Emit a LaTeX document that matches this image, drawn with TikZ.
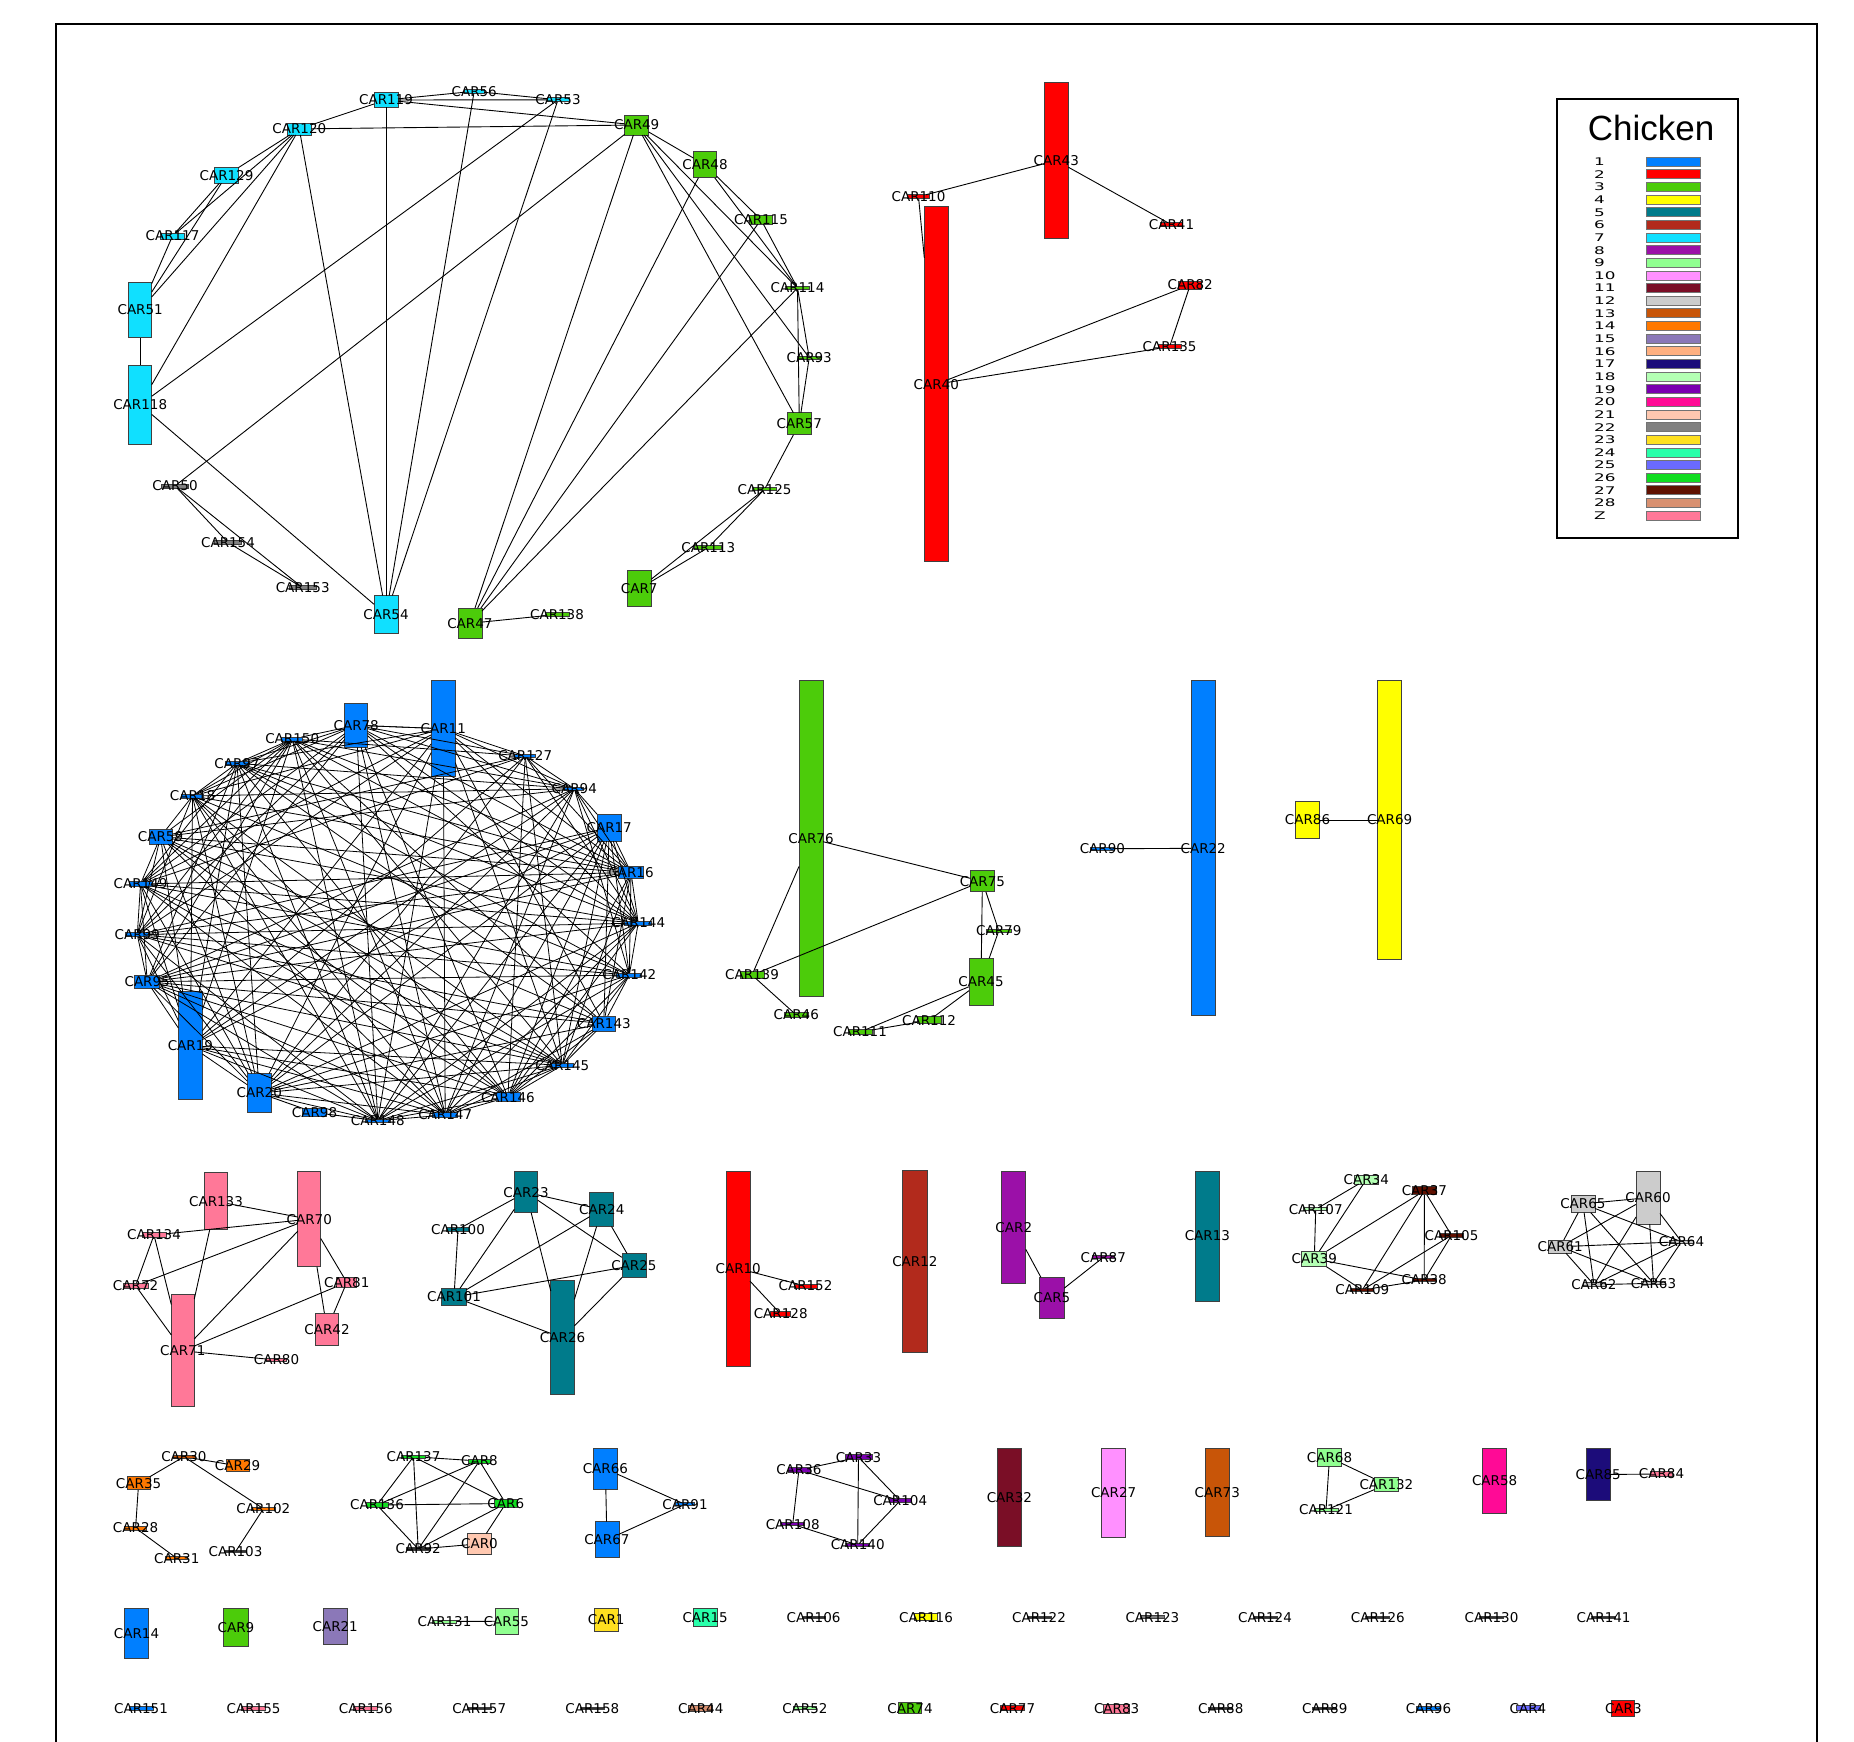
\documentclass[tikz,border=0pt]{standalone}
\usepackage{fontspec}
\newfontfamily\dejavu{DejaVu Sans}
\newfontfamily\liber{Liberation Sans}
\definecolor{c1}{HTML}{007FFF}
\definecolor{c2}{HTML}{FF0000}
\definecolor{c3}{HTML}{4CCC0A}
\definecolor{c4}{HTML}{FFFF00}
\definecolor{c5}{HTML}{007B8B}
\definecolor{c6}{HTML}{B22A1C}
\definecolor{c7}{HTML}{10E0FF}
\definecolor{c8}{HTML}{9B10A8}
\definecolor{c9}{HTML}{90FF90}
\definecolor{c10}{HTML}{FF90FF}
\definecolor{c11}{HTML}{7A0E26}
\definecolor{c12}{HTML}{CCCCCC}
\definecolor{c13}{HTML}{C85508}
\definecolor{c14}{HTML}{FF7800}
\definecolor{c15}{HTML}{8B78B8}
\definecolor{c16}{HTML}{FFB080}
\definecolor{c17}{HTML}{1C0C7A}
\definecolor{c18}{HTML}{B4FFB4}
\definecolor{c19}{HTML}{7A00B0}
\definecolor{c20}{HTML}{FF0A96}
\definecolor{c21}{HTML}{FFC8B0}
\definecolor{c22}{HTML}{808080}
\definecolor{c23}{HTML}{FFE020}
\definecolor{c24}{HTML}{28FFAA}
\definecolor{c25}{HTML}{6A6AFF}
\definecolor{c26}{HTML}{10DD20}
\definecolor{c27}{HTML}{601000}
\definecolor{c28}{HTML}{D89070}
\definecolor{cZ}{HTML}{FF7898}
\definecolor{cK}{HTML}{333333}
\tikzset{
 cbox/.style={rectangle, draw=black!75, line width=0.8pt, inner sep=0pt, outer sep=0pt},
 lbl/.style={font={\dejavu\fontsize{13.5}{14}\selectfont}, inner sep=0pt, text=black},
 edge/.style={draw=black, line width=0.9pt},
 legnum/.style={font={\dejavu\fontsize{10.5}{11}\selectfont}, inner sep=0pt, anchor=west},
 legbar/.style={rectangle, draw=black!55, line width=0.8pt, minimum width=54pt, minimum height=9pt, inner sep=0pt},
}
\newcommand\cn[6]{\node[cbox, fill=#6, minimum width=#4pt, minimum height=#5pt] (#1) at (#2,#3) {};}
\begin{document}
\begin{tikzpicture}[x=1pt,y=-1pt]
\useasboundingbox (0,0) rectangle (1854,1741);
\clip (0,0) rectangle (1854,1741);
\fill[white] (0,0) rectangle (1854,1741);
\draw[line width=2pt] (55.7,1760) -- (55.7,23.6) -- (1816.7,23.6) -- (1816.7,1760);
% legend
\node[draw, line width=1.8pt, minimum width=180.4pt, minimum height=439pt, inner sep=0pt] (legend) at (1647.5,318.8) {};
\node[font={\liber\fontsize{35}{36}\selectfont}, inner sep=0pt] (legtitle) at (1651,127.5) {Chicken};
\foreach \t/\c [count=\i from 0] in {1/c1,2/c2,3/c3,4/c4,5/c5,6/c6,7/c7,8/c8,9/c9,10/c10,11/c11,12/c12,13/c13,14/c14,15/c15,16/c16,17/c17,18/c18,19/c19,20/c20,21/c21,22/c22,23/c23,24/c24,25/c25,26/c26,27/c27,28/c28,Z/cZ}{
  \node[legnum] (lgn\i) at (1594,161.7+12.64*\i) {\scalebox{1.6}[1]{\t}};
  \node[legbar, fill=\c] (lgb\i) at (1673,161.7+12.64*\i) {};
}
% ---------- cluster top-left
\cn{CAR119}{386}{100}{24}{14.5}{c7}
\cn{CAR56}{474.2}{91.3}{20}{4}{c7}
\cn{CAR53}{558}{99.8}{22}{4}{c7}
\cn{CAR120}{299.3}{128.9}{24}{12}{c7}
\cn{CAR49}{636.7}{125}{24}{20}{c3}
\cn{CAR48}{705}{164.8}{23}{26}{c3}
\cn{CAR129}{226.5}{175.2}{24}{16}{c7}
\cn{CAR115}{761}{219.7}{23}{9}{c3}
\cn{CAR117}{172.5}{236}{24}{6}{c7}
\cn{CAR114}{797.5}{288}{24}{3}{c3}
\cn{CAR51}{140.2}{310}{23}{55.5}{c7}
\cn{CAR93}{809.2}{357.7}{24}{3}{c3}
\cn{CAR118}{140.2}{404.6}{23}{79}{c7}
\cn{CAR57}{799.3}{423.7}{24}{22}{c3}
\cn{CAR50}{175}{485.9}{27}{4}{c22}
\cn{CAR125}{764.6}{489.3}{24}{3}{c3}
\cn{CAR154}{228}{542.5}{27}{4}{c22}
\cn{CAR113}{708.3}{547.5}{27}{4}{c3}
\cn{CAR153}{302.7}{587.7}{27}{4}{c22}
\cn{CAR7}{639.2}{588.7}{24}{36}{c3}
\cn{CAR54}{386}{614.5}{24}{38}{c7}
\cn{CAR47}{469.9}{623.3}{24}{30.6}{c3}
\cn{CAR138}{557}{614.5}{24}{4}{c3}
% ---------- red cluster
\cn{CAR43}{1056.3}{160.5}{24}{156}{c2}
\cn{CAR110}{918.5}{196.7}{22}{4}{c2}
\cn{CAR40}{936.3}{384.2}{24}{355}{c2}
\cn{CAR41}{1171.5}{224.7}{22}{4}{c2}
\cn{CAR82}{1190.2}{285}{23}{8}{c2}
\cn{CAR135}{1169.6}{346.7}{23}{4}{c2}
% ---------- blue dense cluster
\cn{CAR11}{443.3}{728.7}{24}{96}{c1}
\cn{CAR127}{525.2}{756}{21}{3}{c1}
\cn{CAR94}{574.3}{788.7}{19}{3}{c1}
\cn{CAR17}{609.2}{827.7}{24}{27}{c1}
\cn{CAR16}{631}{872.5}{25}{12}{c1}
\cn{CAR144}{638.2}{923}{27}{4}{c1}
\cn{CAR142}{629.3}{975}{25}{4}{c1}
\cn{CAR143}{603.8}{1023.5}{23}{15}{c1}
\cn{CAR145}{562.3}{1065.3}{23}{4}{c1}
\cn{CAR146}{507.9}{1097.2}{24}{9}{c1}
\cn{CAR147}{445.2}{1115}{25}{5}{c1}
\cn{CAR148}{377.8}{1120.7}{25}{3}{c1}
\cn{CAR98}{314.5}{1112.5}{24}{8}{c1}
\cn{CAR20}{259.3}{1093}{24}{39}{c1}
\cn{CAR19}{190.4}{1045.8}{24}{108}{c1}
\cn{CAR95}{147.2}{981.7}{25}{13}{c1}
\cn{CAR99}{137.3}{934.7}{23}{4}{c1}
\cn{CAR149}{140.5}{884}{23}{5}{c1}
\cn{CAR59}{160.5}{836.7}{23}{15}{c1}
\cn{CAR18}{192.5}{796}{22}{4}{c1}
\cn{CAR97}{237}{763.3}{23}{4}{c1}
\cn{CAR150}{292.2}{739}{21}{4}{c1}
\cn{CAR78}{356.2}{725.3}{23}{44}{c1}
% ---------- green 76 cluster and others of row 2
\cn{CAR76}{811}{838.7}{24}{316}{c3}
\cn{CAR75}{982.4}{881.3}{24}{21}{c3}
\cn{CAR79}{998.8}{930.7}{25}{3}{c3}
\cn{CAR139}{752}{975}{24}{6.6}{c3}
\cn{CAR45}{981}{981.7}{24}{47}{c3}
\cn{CAR46}{796.3}{1015}{24}{5}{c3}
\cn{CAR112}{929.1}{1020.3}{24}{7}{c3}
\cn{CAR111}{860}{1032}{24}{5}{c3}
\cn{CAR90}{1102.4}{848.7}{24}{3}{c1}
\cn{CAR22}{1203.2}{848.3}{24}{335}{c1}
\cn{CAR86}{1307.5}{820}{24}{37}{c4}
\cn{CAR69}{1389.6}{820}{24}{279}{c4}
% ---------- row 3
\cn{CAR133}{216}{1201.3}{23}{57}{cZ}
\cn{CAR70}{309.3}{1219.2}{23}{95}{cZ}
\cn{CAR134}{154}{1235}{24}{5}{cZ}
\cn{CAR72}{135.6}{1285.7}{25}{5}{cZ}
\cn{CAR81}{346.8}{1282.3}{20}{10}{cZ}
\cn{CAR71}{182.8}{1350.8}{23}{112}{cZ}
\cn{CAR42}{327}{1329.2}{23.5}{32}{cZ}
\cn{CAR80}{276.5}{1360}{20}{3}{cZ}
\cn{CAR23}{526}{1192.2}{23.5}{41}{c5}
\cn{CAR24}{601.8}{1209.5}{24}{34}{c5}
\cn{CAR100}{458}{1229.3}{23}{3.5}{c5}
\cn{CAR25}{633.9}{1265.5}{24}{24}{c5}
\cn{CAR101}{454}{1297}{24.5}{17}{c5}
\cn{CAR26}{562.6}{1337.8}{23.5}{114}{c5}
\cn{CAR10}{738.2}{1268.5}{23.5}{195}{c2}
\cn{CAR152}{805.5}{1286}{23}{4}{c2}
\cn{CAR128}{780.7}{1314}{20}{5}{c2}
\cn{CAR12}{914.9}{1261.8}{24.4}{182}{c6}
\cn{CAR2}{1013.8}{1227.2}{24}{112}{c8}
\cn{CAR5}{1052}{1297.8}{24.4}{41}{c8}
\cn{CAR87}{1103.3}{1257.3}{22}{3}{c8}
\cn{CAR13}{1207.4}{1236}{24.4}{130}{c5}
\cn{CAR34}{1366.3}{1179.5}{24}{9}{c18}
\cn{CAR37}{1424.4}{1190.8}{24}{8}{c27}
\cn{CAR107}{1315.7}{1209.3}{24}{3}{c18}
\cn{CAR105}{1451.5}{1235.3}{24}{4}{c27}
\cn{CAR39}{1314.3}{1258.8}{25}{15.7}{c18}
\cn{CAR38}{1424.2}{1280}{24}{3}{c27}
\cn{CAR109}{1362.3}{1290}{23}{3}{c27}
\cn{CAR60}{1648}{1197.7}{24}{53}{c12}
\cn{CAR65}{1582.9}{1203.8}{24}{17.7}{c12}
\cn{CAR61}{1560.2}{1246.7}{23}{13}{c12}
\cn{CAR64}{1681.5}{1241.7}{24}{3}{c12}
\cn{CAR62}{1593.9}{1284.7}{22}{4}{c12}
\cn{CAR63}{1653.5}{1283.3}{24}{3}{c12}
% ---------- row 4
\cn{CAR30}{183.9}{1456.7}{22}{3}{c13}
\cn{CAR29}{237.6}{1465.8}{23}{12}{c14}
\cn{CAR35}{138.6}{1483.3}{23}{13}{c14}
\cn{CAR102}{263.4}{1508.7}{24}{3}{c14}
\cn{CAR28}{135.6}{1528}{22}{4}{c14}
\cn{CAR103}{235.5}{1551.7}{22}{2}{cK}
\cn{CAR31}{176.8}{1558.3}{22}{3}{c14}
\cn{CAR137}{413.5}{1456.7}{24}{3}{c26}
\cn{CAR8}{479.5}{1461}{22}{4}{c26}
\cn{CAR136}{377}{1505}{22}{5}{c26}
\cn{CAR6}{505.8}{1503.5}{23}{8}{c26}
\cn{CAR92}{418.2}{1549}{24}{3}{cK}
\cn{CAR0}{479.5}{1543.8}{24}{21}{c21}
\cn{CAR66}{605.4}{1468.8}{24}{41}{c1}
\cn{CAR67}{606.9}{1539.7}{24}{36}{c1}
\cn{CAR91}{685}{1504.3}{19}{3}{c1}
\cn{CAR33}{858.5}{1457.3}{27}{5}{c19}
\cn{CAR36}{798.9}{1470}{22}{5}{c19}
\cn{CAR104}{900.2}{1500.7}{22}{4}{c19}
\cn{CAR108}{792.7}{1524.3}{24}{3}{c19}
\cn{CAR140}{857.7}{1545}{24}{3}{c19}
\cn{CAR32}{1009.4}{1497.5}{24}{98}{c11}
\cn{CAR27}{1113.6}{1493}{24}{89}{c10}
\cn{CAR73}{1217.3}{1492.2}{24}{88}{c13}
\cn{CAR68}{1329.5}{1457.5}{24}{18}{c9}
\cn{CAR132}{1386.4}{1484.5}{24}{14}{c9}
\cn{CAR121}{1326}{1510}{24}{3}{c9}
\cn{CAR58}{1494.6}{1480.8}{24}{65}{c20}
\cn{CAR85}{1598.2}{1474.5}{24}{52}{c17}
\cn{CAR84}{1661.5}{1474}{22}{5}{cZ}
% ---------- row 5
\cn{CAR14}{136.5}{1633.5}{24}{50}{c1}
\cn{CAR9}{236}{1627.5}{24.6}{38}{c3}
\cn{CAR21}{335.2}{1626.2}{23.5}{35.7}{c15}
\cn{CAR131}{444.5}{1621.5}{24}{3}{c9}
\cn{CAR55}{506.4}{1621.2}{23}{25.7}{c9}
\cn{CAR1}{606.2}{1620}{24}{23}{c23}
\cn{CAR15}{705.1}{1617.5}{24}{18}{c24}
\cn{CAR106}{813.6}{1617.5}{23}{2}{cK}
\cn{CAR116}{926}{1617.3}{23}{7}{c4}
\cn{CAR122}{1039}{1617.3}{24}{2}{cK}
\cn{CAR123}{1152.4}{1617.3}{24}{3}{c22}
\cn{CAR124}{1265}{1617.3}{24}{2}{cK}
\cn{CAR126}{1377.8}{1617.3}{24}{2}{cK}
\cn{CAR130}{1491.5}{1617.3}{24}{2}{cK}
\cn{CAR141}{1603.6}{1617.3}{24}{2}{cK}
% ---------- row 6
\cn{CAR151}{141}{1708.3}{24}{4}{c1}
\cn{CAR155}{253.6}{1708.3}{24}{4}{cZ}
\cn{CAR156}{365.8}{1708.3}{24}{4}{cZ}
\cn{CAR157}{479.2}{1708.3}{24}{2}{cK}
\cn{CAR158}{592.3}{1708.3}{24}{2}{cK}
\cn{CAR44}{700.8}{1708.3}{24}{6}{c28}
\cn{CAR52}{804.9}{1708.3}{23}{3}{c9}
\cn{CAR74}{910}{1708.3}{23}{11}{c3}
\cn{CAR77}{1012.5}{1708.3}{24}{5}{c2}
\cn{CAR83}{1116.6}{1708.7}{26}{9.3}{cZ}
\cn{CAR88}{1220.8}{1708.3}{24}{2}{cK}
\cn{CAR89}{1324.8}{1708.3}{24}{2}{cK}
\cn{CAR96}{1428.5}{1708.3}{24}{4}{c1}
\cn{CAR4}{1528}{1708.3}{24}{5}{c25}
\cn{CAR3}{1623.3}{1708.3}{23}{16.7}{c2}
% ================= edges
\foreach \a/\b in {CAR119/CAR56, CAR119/CAR53, CAR56/CAR53, CAR119/CAR49, CAR120/CAR119, CAR120/CAR49,
 CAR119/CAR54, CAR120/CAR54, CAR56/CAR54, CAR53/CAR54, CAR53/CAR118, CAR49/CAR50, CAR120/CAR129,
 CAR120/CAR117, CAR120/CAR51, CAR120/CAR118, CAR129/CAR117, CAR129/CAR51, CAR117/CAR51, CAR51/CAR118,
 CAR118/CAR54, CAR49/CAR48, CAR49/CAR114, CAR49/CAR93, CAR49/CAR57, CAR49/CAR47, CAR48/CAR47,
 CAR115/CAR47, CAR114/CAR47, CAR48/CAR115, CAR48/CAR114, CAR115/CAR114, CAR114/CAR57, CAR114/CAR93,
 CAR93/CAR57, CAR57/CAR125, CAR125/CAR7, CAR125/CAR113, CAR113/CAR7, CAR50/CAR154, CAR50/CAR153,
 CAR154/CAR153, CAR47/CAR138,
 CAR110/CAR43, CAR110/CAR40, CAR43/CAR41, CAR40/CAR82, CAR40/CAR135, CAR82/CAR135,
 CAR76/CAR75, CAR76/CAR139, CAR139/CAR75, CAR139/CAR46, CAR75/CAR45, CAR75/CAR79, CAR79/CAR45,
 CAR45/CAR111, CAR45/CAR112, CAR112/CAR111, CAR90/CAR22, CAR86/CAR69,
 CAR133/CAR70, CAR134/CAR70, CAR134/CAR72, CAR134/CAR71, CAR72/CAR70, CAR72/CAR71, CAR133/CAR71,
 CAR70/CAR71, CAR70/CAR81, CAR70/CAR42, CAR81/CAR42, CAR81/CAR71, CAR71/CAR80,
 CAR23/CAR100, CAR23/CAR24, CAR23/CAR101, CAR23/CAR26, CAR23/CAR25, CAR100/CAR101, CAR24/CAR101,
 CAR24/CAR26, CAR24/CAR25, CAR25/CAR101, CAR25/CAR26, CAR101/CAR26,
 CAR10/CAR152, CAR10/CAR128, CAR2/CAR5, CAR5/CAR87,
 CAR34/CAR107, CAR34/CAR39, CAR107/CAR39, CAR37/CAR39, CAR37/CAR109, CAR37/CAR38, CAR37/CAR105,
 CAR105/CAR109, CAR105/CAR38, CAR39/CAR109, CAR39/CAR38, CAR109/CAR38,
 CAR65/CAR60, CAR65/CAR61, CAR65/CAR62, CAR65/CAR63, CAR65/CAR64, CAR60/CAR61, CAR60/CAR62,
 CAR60/CAR63, CAR60/CAR64, CAR61/CAR64, CAR61/CAR62, CAR61/CAR63, CAR64/CAR62, CAR64/CAR63, CAR62/CAR63,
 CAR30/CAR29, CAR30/CAR35, CAR30/CAR102, CAR35/CAR28, CAR28/CAR31, CAR102/CAR103,
 CAR137/CAR8, CAR137/CAR136, CAR137/CAR92, CAR137/CAR6, CAR8/CAR136, CAR8/CAR92, CAR8/CAR6,
 CAR136/CAR6, CAR136/CAR92, CAR6/CAR92, CAR6/CAR0, CAR92/CAR0,
 CAR66/CAR67, CAR66/CAR91, CAR67/CAR91,
 CAR36/CAR33, CAR36/CAR104, CAR36/CAR108, CAR33/CAR140, CAR33/CAR104, CAR108/CAR140, CAR104/CAR140,
 CAR68/CAR132, CAR68/CAR121, CAR121/CAR132, CAR85/CAR84, CAR131/CAR55,
 CAR98/CAR20, CAR98/CAR148}
 {\draw[edge] (\a) -- (\b);}
% dense blue cluster
\def\bluelist{CAR11,CAR127,CAR94,CAR17,CAR16,CAR144,CAR142,CAR143,CAR145,CAR146,CAR147,CAR148,CAR20,CAR19,CAR95,CAR99,CAR149,CAR59,CAR18,CAR97,CAR150,CAR78}
\foreach \a [count=\i] in \bluelist {
  \foreach \b [count=\j] in \bluelist {
    \ifnum\j>\i
      \pgfmathtruncatemacro\r{mod(\i*37+\j*53+\i*\j*11,100)}
      \ifnum\j=\numexpr\i+1\relax \def\r{0}\fi
      \ifnum\r<70 \draw[edge, line width=0.8pt] (\a) -- (\b);\fi
    \fi
  }
}
\draw[edge, line width=0.8pt] (CAR78) -- (CAR11);
% ================= labels
\foreach \n in {CAR119,CAR56,CAR53,CAR120,CAR49,CAR48,CAR129,CAR115,CAR117,CAR114,CAR51,CAR93,CAR118,CAR57,CAR50,CAR125,CAR154,CAR113,CAR153,CAR7,CAR54,CAR47,CAR138,
 CAR43,CAR110,CAR40,CAR41,CAR82,CAR135,
 CAR11,CAR127,CAR94,CAR17,CAR16,CAR144,CAR142,CAR143,CAR145,CAR146,CAR147,CAR148,CAR98,CAR20,CAR19,CAR95,CAR99,CAR149,CAR59,CAR18,CAR97,CAR150,CAR78,
 CAR76,CAR75,CAR79,CAR139,CAR45,CAR46,CAR112,CAR111,CAR90,CAR22,CAR86,CAR69,
 CAR133,CAR70,CAR134,CAR72,CAR81,CAR71,CAR42,CAR80,CAR23,CAR24,CAR100,CAR25,CAR101,CAR26,CAR10,CAR152,CAR128,
 CAR12,CAR2,CAR5,CAR87,CAR13,CAR34,CAR37,CAR107,CAR105,CAR39,CAR38,CAR109,CAR60,CAR65,CAR61,CAR64,CAR62,CAR63,
 CAR30,CAR29,CAR35,CAR102,CAR28,CAR103,CAR31,CAR137,CAR8,CAR136,CAR6,CAR92,CAR0,CAR66,CAR67,CAR91,
 CAR33,CAR36,CAR104,CAR108,CAR140,CAR32,CAR27,CAR73,CAR68,CAR132,CAR121,CAR58,CAR85,CAR84,
 CAR14,CAR9,CAR21,CAR131,CAR55,CAR1,CAR15,CAR106,CAR116,CAR122,CAR123,CAR124,CAR126,CAR130,CAR141,
 CAR151,CAR155,CAR156,CAR157,CAR158,CAR44,CAR52,CAR74,CAR77,CAR83,CAR88,CAR89,CAR96,CAR4,CAR3}
 {\node[lbl] (L\n) at (\n) {\n};}
\end{tikzpicture}
\end{document}
